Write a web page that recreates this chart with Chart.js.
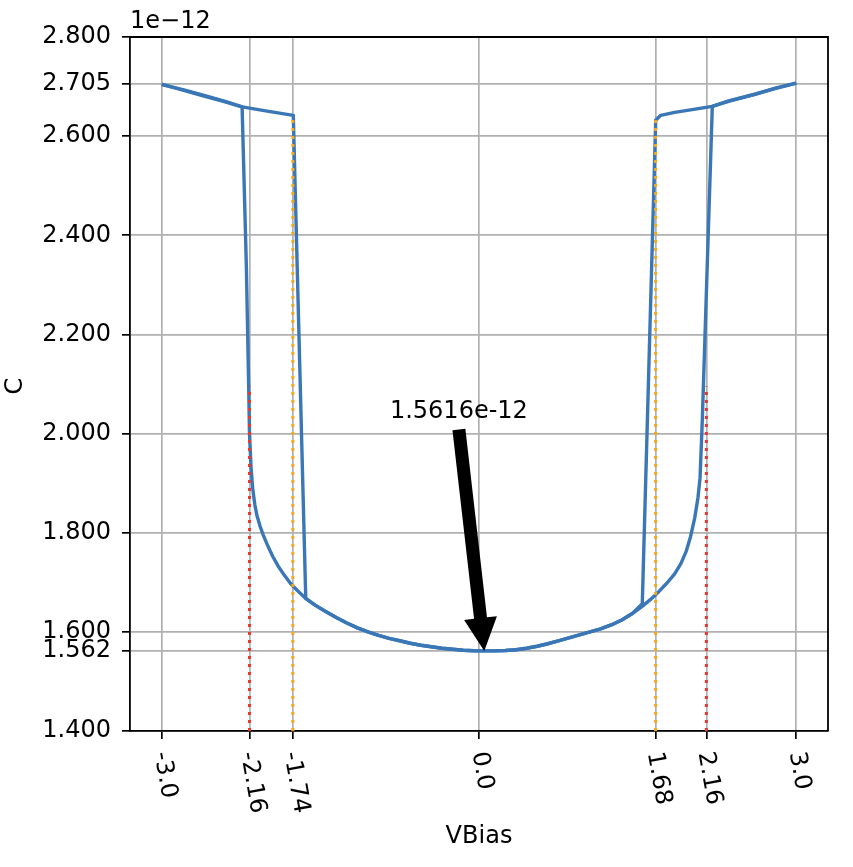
<!DOCTYPE html>
<html>
<head>
<meta charset="utf-8">
<title>C - VBias sweep</title>
<script src="https://cdn.jsdelivr.net/npm/chart.js@4.4.1/dist/chart.umd.min.js"></script>
<style>
  html, body { margin: 0; padding: 0; background: #fff; }
  #wrap { width: 853px; height: 867px; }
</style>
</head>
<body>
<div id="wrap"><canvas id="cv" width="853" height="867"></canvas></div>
<script>
// capacitance values are in units of 1e-12 F
// sweep -3 V -> +3 V
const vForward = [
  -3.0, -2.8, -2.6, -2.4, -2.24, -2.20, -2.18, -2.17, -2.155, -2.14,
  -2.12, -2.10, -2.07, -2.04, -2.00, -1.95, -1.90, -1.84, -1.78, -1.72,
  -1.64, -1.55, -1.45, -1.35, -1.25, -1.15, -1.05, -0.95, -0.85, -0.75,
  -0.65, -0.55, -0.45, -0.35, -0.25, -0.15, -0.05, 0.05, 0.15, 0.25,
  0.35, 0.45, 0.55, 0.65, 0.75, 0.85, 0.95, 1.05, 1.15, 1.25,
  1.35, 1.45, 1.54, 1.62, 1.70, 1.78, 1.85, 1.91, 1.96, 2.00,
  2.04, 2.07, 2.09, 2.112, 2.206, 2.36, 2.6, 2.8, 3.0
];
const cForward = [
  2.705, 2.693, 2.681, 2.669, 2.659, 2.340, 2.120, 2.000, 1.930, 1.890,
  1.857, 1.835, 1.813, 1.795, 1.775, 1.752, 1.733, 1.714, 1.697, 1.684,
  1.668, 1.654, 1.641, 1.629, 1.618, 1.608, 1.600, 1.593, 1.587, 1.582,
  1.577, 1.573, 1.570, 1.567, 1.565, 1.563, 1.562, 1.5616, 1.5618, 1.5625,
  1.564, 1.567, 1.571, 1.576, 1.582, 1.588, 1.594, 1.600, 1.606, 1.614,
  1.624, 1.637, 1.651, 1.665, 1.681, 1.699, 1.717, 1.738, 1.763, 1.792,
  1.830, 1.870, 1.910, 2.030, 2.660, 2.670, 2.684, 2.696, 2.707
];

// sweep +3 V -> -3 V
const vReverse = [
  3.0, 2.8, 2.6, 2.36, 2.206, 2.0, 1.85, 1.718, 1.671, 1.544,
  1.45, 1.35, 1.25, 1.15, 1.05, 0.95, 0.85, 0.75, 0.65, 0.55,
  0.45, 0.35, 0.25, 0.15, 0.05, -0.05, -0.15, -0.25, -0.35, -0.45,
  -0.55, -0.65, -0.75, -0.85, -0.95, -1.05, -1.15, -1.25, -1.35, -1.45,
  -1.55, -1.638, -1.756, -1.96, -2.24, -2.4, -2.6, -2.8, -3.0
];
const cReverse = [
  2.707, 2.697, 2.684, 2.671, 2.660, 2.653, 2.648, 2.642, 2.632, 1.657,
  1.637, 1.624, 1.614, 1.606, 1.600, 1.594, 1.588, 1.582, 1.576, 1.571,
  1.567, 1.564, 1.5625, 1.5618, 1.5616, 1.562, 1.563, 1.565, 1.567, 1.570,
  1.573, 1.577, 1.582, 1.587, 1.593, 1.600, 1.608, 1.618, 1.629, 1.641,
  1.654, 1.667, 2.642, 2.649, 2.659, 2.670, 2.682, 2.694, 2.704
];

// ticks
const xTicks = [-3.0, -2.17, -1.76, 0.0, 1.67, 2.15, 3.0];
const xTickLabels = ["-3.0", "-2.16", "-1.74", "0.0", "1.68", "2.16", "3.0"];
const yTicks = [1.4, 1.562, 1.6, 1.8, 2.0, 2.2, 2.4, 2.6, 2.705, 2.8];

// dotted marker lines (x position, top value)
const redLinesX = [-2.17, 2.15];
const redLinesTop = [2.095, 2.095];
const orangeLinesX = [-1.76, 1.67];
const orangeLinesTop = [2.636, 2.633];

// annotation of the minimum
const minV = 0.05;
const minC = 1.5616;
const labelV = -0.19;
const labelC = 2.044;
const arrowTailC = 2.008;

const FONT = "'DejaVu Sans', sans-serif";
const FONT_SIZE = 24;
Chart.defaults.font.family = FONT;
Chart.defaults.font.size = FONT_SIZE;
Chart.defaults.color = "#000";

function toPoints(xs, ys) {
  return xs.map((x, i) => ({ x: x, y: ys[i] }));
}

function sweep(xs, ys) {
  return {
    data: toPoints(xs, ys),
    borderColor: "#3a77b7",
    borderWidth: 3.4,
    borderJoinStyle: "round",
    pointRadius: 0,
    fill: false,
    tension: 0,
    order: 1
  };
}

function vline(x, top, color) {
  return {
    data: [{ x: x, y: yTicks[0] }, { x: x, y: top }],
    borderColor: color,
    borderWidth: 3,
    borderDash: [3, 5],
    borderCapStyle: "butt",
    pointRadius: 0,
    fill: false,
    order: 0
  };
}

const datasets = [sweep(vForward, cForward), sweep(vReverse, cReverse)];
redLinesX.forEach((x, i) => datasets.push(vline(x, redLinesTop[i], "#e8392b")));
orangeLinesX.forEach((x, i) => datasets.push(vline(x, orangeLinesTop[i], "#f4a81f")));

const gridOpts = {
  color: "#b0b0b0",
  lineWidth: 1.7,
  tickColor: "#000",
  tickWidth: 1.7,
  tickLength: 8
};
const borderOpts = { color: "#000", width: 1.8 };

// spines, rotated x labels, texts and the arrow
const extras = {
  id: "extras",
  afterDraw(chart) {
    const ctx = chart.ctx;
    const area = chart.chartArea;
    const xs = chart.scales.x;
    const ys = chart.scales.y;
    ctx.save();

    ctx.strokeStyle = "#000";
    ctx.lineWidth = 1.8;
    ctx.beginPath();
    ctx.moveTo(area.left, area.top);
    ctx.lineTo(area.right, area.top);
    ctx.lineTo(area.right, area.bottom);
    ctx.stroke();

    ctx.fillStyle = "#000";
    ctx.font = FONT_SIZE + "px " + FONT;

    // x tick labels, turned 80 degrees clockwise
    const rot = 80 * Math.PI / 180;
    xTicks.forEach((v, i) => {
      const px = xs.getPixelForValue(v);
      const w = ctx.measureText(xTickLabels[i]).width;
      ctx.save();
      ctx.translate(px - w * Math.cos(rot) / 2 + 3, area.bottom + 21);
      ctx.rotate(rot);
      ctx.textAlign = "left";
      ctx.textBaseline = "middle";
      ctx.fillText(xTickLabels[i], 0, 0);
      ctx.restore();
    });

    // axis titles
    ctx.textAlign = "center";
    ctx.textBaseline = "middle";
    ctx.fillText("VBias", (area.left + area.right) / 2, area.bottom + 106);
    ctx.save();
    ctx.translate(16, (area.top + area.bottom) / 2 + 2);
    ctx.rotate(-Math.PI / 2);
    ctx.fillText("C", 0, 0);
    ctx.restore();

    // offset text
    ctx.textAlign = "left";
    ctx.textBaseline = "alphabetic";
    ctx.fillText("1e\u221212", area.left, area.top - 9);

    // annotation
    ctx.textAlign = "center";
    ctx.textBaseline = "middle";
    ctx.fillText(minC.toFixed(4) + "e-12", xs.getPixelForValue(labelV), ys.getPixelForValue(labelC));

    const tipX = xs.getPixelForValue(minV);
    const tipY = ys.getPixelForValue(minC);
    const tailX = xs.getPixelForValue(labelV);
    const tailY = ys.getPixelForValue(arrowTailC);
    const len = Math.hypot(tipX - tailX, tipY - tailY);
    const headLen = 33, headHalf = 16.5, shaftHalf = 6.5;
    ctx.translate(tailX, tailY);
    ctx.rotate(Math.atan2(tipY - tailY, tipX - tailX));
    ctx.beginPath();
    ctx.moveTo(0, -shaftHalf);
    ctx.lineTo(len - headLen, -shaftHalf);
    ctx.lineTo(len - headLen, -headHalf);
    ctx.lineTo(len, 0);
    ctx.lineTo(len - headLen, headHalf);
    ctx.lineTo(len - headLen, shaftHalf);
    ctx.lineTo(0, shaftHalf);
    ctx.closePath();
    ctx.fill();

    ctx.restore();
  }
};

new Chart(document.getElementById("cv"), {
  type: "line",
  data: { datasets: datasets },
  options: {
    responsive: false,
    animation: false,
    events: [],
    layout: { padding: { top: 37, right: 25, left: 0, bottom: 0 } },
    plugins: { legend: { display: false }, tooltip: { enabled: false } },
    scales: {
      x: {
        type: "linear",
        min: -3.3,
        max: 3.3,
        afterBuildTicks: s => { s.ticks = xTicks.map(v => ({ value: v })); },
        afterFit: s => { s.height = 136; },
        ticks: { display: false },
        grid: gridOpts,
        border: borderOpts
      },
      y: {
        type: "linear",
        min: yTicks[0],
        max: yTicks[yTicks.length - 1],
        afterBuildTicks: s => { s.ticks = yTicks.map(v => ({ value: v })); },
        afterFit: s => { s.width = 130; },
        ticks: {
          autoSkip: false,
          padding: 11,
          color: "#000",
          callback: v => Number(v).toFixed(3)
        },
        grid: gridOpts,
        border: borderOpts
      }
    }
  },
  plugins: [extras]
});
</script>
</body>
</html>
